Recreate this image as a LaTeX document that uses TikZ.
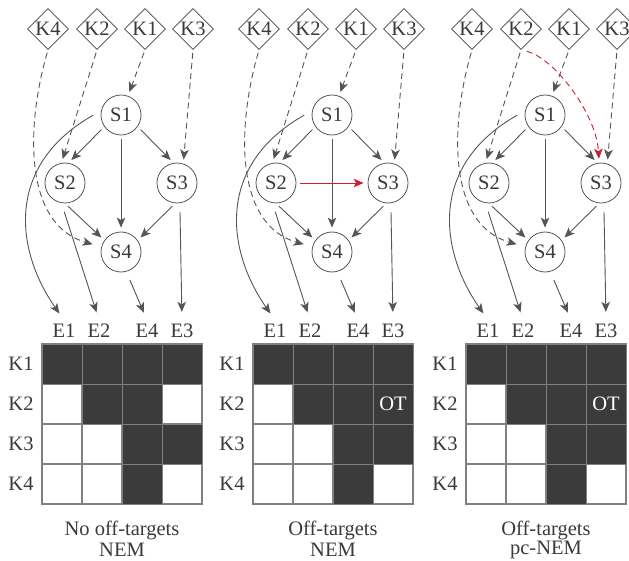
\documentclass[tikz,border=0pt]{standalone}
\usepackage{fontspec}
\setmainfont{Liberation Serif}
\usetikzlibrary{shapes.geometric,arrows.meta}
\definecolor{lc}{HTML}{555555}
\definecolor{dc}{HTML}{444444}
\definecolor{tc}{HTML}{3A3A3A}
\definecolor{cellfill}{HTML}{3B3B3B}
\definecolor{cellline}{HTML}{808080}
\definecolor{redc}{HTML}{C8202F}
\tikzset{
  every node/.style={font=\fontsize{20.5}{23}\selectfont, text=tc},
  snode/.style={circle, draw=lc, line width=0.8pt, minimum size=40pt, inner sep=0pt},
  knode/.style={diamond, draw=dc, line width=0.8pt, minimum width=41pt, minimum height=41pt, inner sep=0pt},
  enode/.style={inner sep=4pt},
  arr/.style={draw=lc, line width=0.9pt, -{Stealth[length=10pt,width=8.5pt,inset=2.5pt]}, shorten >=4pt, shorten <=4pt},
  darr/.style={arr, dash pattern=on 6pt off 4pt, shorten <=3pt},
  earr/.style={arr, shorten <=9pt, shorten >=8pt},
  darkcell/.style={fill=cellfill, draw=cellline, line width=1pt},
  lightcell/.style={fill=white, draw=cellline, line width=1.2pt},
}
\begin{document}
\begin{tikzpicture}[x=1pt, y=-1pt]
\useasboundingbox (0,0) rectangle (629,561);
\foreach \p/\dx/\capa/\capb in {a/0/No off-targets/NEM, b/211/Off-targets/NEM, c/424/Off-targets/pc-NEM}{
\begin{scope}[xshift=\dx pt]
  % knockdown diamonds
  \node[knode] (\p K4) at (48,29) {K4};
  \node[knode] (\p K2) at (97,29) {K2};
  \node[knode] (\p K1) at (145,29) {K1};
  \node[knode] (\p K3) at (193,29) {K3};
  % signalling genes
  \node[snode] (\p S1) at (121,115) {S1};
  \node[snode] (\p S2) at (65,183) {S2};
  \node[snode] (\p S3) at (177,183) {S3};
  \node[snode] (\p S4) at (121,252) {S4};
  % effect labels
  \node[enode] (\p E1) at (64,331) {E1};
  \node[enode] (\p E2) at (99,331) {E2};
  \node[enode] (\p E4) at (147,331) {E4};
  \node[enode] (\p E3) at (182,331) {E3};
  % dashed knockdown arrows
  \draw[darr] (\p K1.south) -- (\p S1.70);
  \draw[darr] (\p K2.south) -- (\p S2.100);
  \draw[darr] (\p K3.south) -- (\p S3.72);
  \draw[darr, shorten >=9pt] (\p K4.south) .. controls (25,130) and (25,225) .. (\p S4.165);
  % network edges
  \draw[arr] (\p S1.215) -- (\p S2.80);
  \draw[arr] (\p S1.-35) -- (\p S3.100);
  \draw[arr] (\p S1.south) -- (\p S4.north);
  \draw[arr] (\p S2.-90) -- (\p S4.145);
  \draw[arr] (\p S3.-95) -- (\p S4.35);
  % effect attachments
  \draw[earr] (\p S1.168) .. controls (5,165) and (15,250) .. (\p E1.north);
  \draw[earr] (\p S2.-100) -- (\p E2.north);
  \draw[earr] (\p S4.-75) -- (\p E4.north);
  \draw[earr] (\p S3.-82) -- (\p E3.north);
  % grid
  \foreach \c in {1,2,3,4}{
    \foreach \r in {1,2,3,4}{
      \draw[lightcell] ({2+40*\c},{304+40*\r}) rectangle +(40,40);
    }
  }
  \foreach \c/\r in {1/1,2/1,3/1,4/1,2/2,3/2,3/3,4/3,3/4}{
    \draw[darkcell] ({2+40*\c},{304+40*\r}) rectangle +(40,40);
  }
  \node (\p R1) at (21,364) {K1};
  \node (\p R2) at (21,404) {K2};
  \node (\p R3) at (21,444) {K3};
  \node (\p R4) at (21,484) {K4};
  \node (\p C1) at (122,530) {\capa};
  \node (\p C2) at (122,550) {\capb};
\end{scope}
}
% panel 2 extras
\begin{scope}[xshift=211pt]
  \draw[darkcell] (162,384) rectangle +(40,40);
  \node[text=white] (bOT) at (182,404) {OT};
\end{scope}
\draw[arr, draw=redc] (bS2) -- (bS3);
% panel 3 extras
\begin{scope}[xshift=424pt]
  \draw[darkcell] (162,384) rectangle +(40,40);
  \node[text=white] (cOT) at (182,404) {OT};
  \draw[darr, draw=redc, shorten <=6pt] (cK2.south) .. controls (130,58) and (172,113) .. (cS3.95);
\end{scope}
\end{tikzpicture}
\end{document}
